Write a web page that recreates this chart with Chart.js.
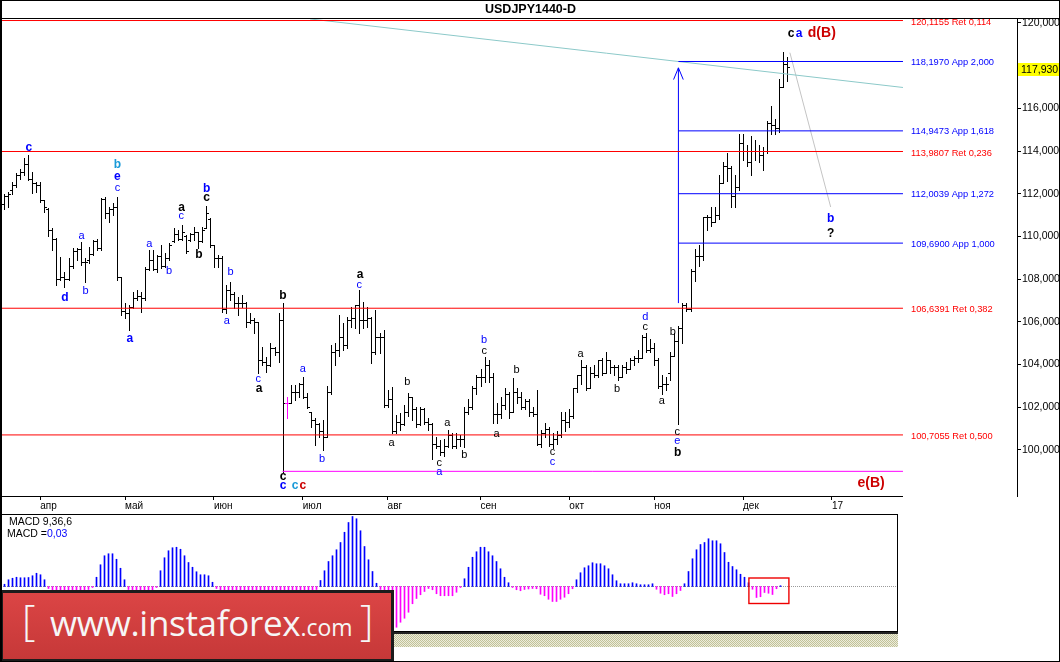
<!DOCTYPE html>
<html>
<head>
<meta charset="utf-8">
<script src="https://cdn.jsdelivr.net/npm/chart.js@4.4.1/dist/chart.umd.min.js"></script>
<style>
  html, body { margin: 0; padding: 0; background: #fff; }
  #wrap { position: relative; width: 1060px; height: 662px; overflow: hidden; background: #fff; }
  #main { position: absolute; left: 0; top: 0; }
  #macd { position: absolute; left: 0; top: 513px; }
  #band { position: absolute; left: 1px; top: 632px; width: 897px; height: 2px; background: #222; }
  #hatch { position: absolute; left: 1px; top: 634px; width: 897px; height: 13px;
    background: repeating-conic-gradient(#c2c298 0% 25%, #ececdc 0% 50%) 0 0 / 2px 2px; }
  #logo { position: absolute; left: 0; top: 590px; width: 394px; height: 72px; box-sizing: border-box;
    border: 3px solid #1c1c1c; background: linear-gradient(#db4545, #c63838); color: #f6f6f6;
    font-family: "Open Sans", sans-serif; z-index: 3; overflow: hidden; }
  #logo span { position: absolute; line-height: 1; white-space: nowrap; }
  #logo .br { font-size: 42px; font-weight: 300; top: 5px; }
  #logo .www { font-size: 35px; left: 47px; top: 12px; letter-spacing: -0.3px; }
  #logo .www small { font-size: 23px; letter-spacing: 0; }
  #frame { position: absolute; left: 0; top: 0; width: 1060px; height: 662px; box-sizing: border-box;
    border: 1px solid #000; border-left-width: 2px; pointer-events: none; z-index: 5; }
</style>
</head>
<body>
<div id="wrap">
  <canvas id="main" width="1060" height="513"></canvas>
  <canvas id="macd" width="898" height="119"></canvas>
  <div id="band"></div>
  <div id="hatch"></div>
  <div id="logo"><span class="br" style="left:19px">[</span><span class="www">www.instaforex<small>.com</small></span><span class="br" style="left:357px">]</span></div>
  <div id="frame"></div>
</div>
<script>
// Daily USDJPY bars, 21 Mar 2016 .. 16 Dec 2016 (index 0 = first bar)
const opens = [
  111.5, 111.9, 112.2, 112.4, 112.9, 113.0, 113.4, 112.7, 112.5, 112.4,
  111.7, 111.3, 110.3, 109.9, 108.0, 108.1, 108.0, 108.6, 109.3, 109.4,
  108.8, 108.9, 109.2, 109.8, 109.45, 111.75, 111.1, 111.3, 111.4, 108.1,
  106.5, 106.4, 106.7, 107.1, 107.2, 107.1, 108.5, 108.9, 108.5, 109.1,
  108.6, 109.0, 109.8, 110.1, 109.9, 110.0, 109.85, 110.1, 110.2, 109.8,
  110.4, 110.8, 109.6, 109.0, 109.0, 106.6, 107.5, 107.3, 106.9, 106.9,
  106.9, 106.0, 106.1, 106.0, 104.2, 104.1, 104.0, 104.8, 104.6, 106.1,
  102.2, 102.2, 102.7, 102.7, 103.1, 102.5, 101.8, 101.4, 101.2, 100.9,
  100.6, 102.7, 104.6, 104.7, 105.3, 104.9, 106.1, 106.2, 106.8, 106.1,
  106.1, 106.2, 104.6, 105.3, 105.3, 102.1, 102.4, 100.9, 101.3, 101.2,
  101.8, 102.5, 101.9, 101.2, 101.9, 101.3, 101.2, 100.3, 100.2, 99.9,
  100.2, 100.7, 100.2, 100.5, 100.5, 101.8, 102.0, 102.9, 103.4, 103.4,
  104.0, 103.4, 101.7, 101.7, 102.1, 102.6, 101.8, 102.7, 102.5, 102.0,
  102.3, 101.8, 101.7, 100.3, 100.8, 101.0, 100.3, 100.5, 100.7, 101.4,
  101.3, 101.6, 102.9, 103.5, 103.9, 102.9, 103.6, 103.5, 104.2, 103.6,
  104.2, 103.9, 103.9, 103.4, 103.9, 103.8, 104.2, 104.3, 104.3, 105.3,
  104.7, 104.8, 104.2, 103.0, 103.1, 103.6, 104.4, 105.1, 105.7, 106.8,
  106.6, 108.4, 109.1, 109.1, 110.9, 110.9, 110.7, 111.0, 112.5, 113.3,
  113.2, 111.9, 112.3, 114.4, 114.0, 113.5, 114.0, 114.0, 113.8, 114.0,
  115.3, 115.2, 115.1, 117.0, 118.1
];
const highs = [
  111.98, 112.10, 112.57, 112.96, 113.15, 113.66, 113.82, 113.04, 112.57, 112.57,
  111.71, 111.35, 110.38, 109.91, 109.06, 108.35, 108.98, 109.45, 109.45, 109.76,
  108.98, 109.52, 109.84, 109.88, 111.79, 111.87, 111.40, 111.55, 111.87, 108.12,
  106.87, 106.79, 107.42, 107.50, 107.42, 108.59, 109.37, 109.37, 109.13, 109.60,
  109.21, 109.68, 110.38, 110.31, 110.54, 110.07, 110.15, 110.46, 110.23, 110.46,
  111.43, 110.85, 109.60, 109.13, 109.09, 107.73, 107.89, 107.42, 107.18, 107.26,
  106.95, 106.40, 106.17, 106.01, 104.84, 104.37, 105.03, 104.84, 106.40, 106.87,
  102.50, 103.05, 103.05, 103.12, 103.40, 102.66, 101.80, 101.48, 101.25, 101.40,
  103.00, 104.90, 104.99, 106.32, 105.93, 106.25, 106.72, 106.80, 107.50, 106.95,
  106.72, 106.25, 106.56, 105.47, 105.62, 102.81, 102.97, 101.64, 101.72, 102.11,
  102.65, 102.50, 102.00, 102.00, 101.95, 101.48, 101.25, 100.63, 100.47, 100.50,
  100.94, 100.80, 100.80, 100.70, 102.03, 102.40, 103.00, 103.50, 103.80, 104.37,
  104.20, 103.60, 102.20, 102.50, 102.90, 102.70, 103.36, 102.90, 102.70, 102.40,
  102.40, 102.00, 102.80, 100.94, 101.25, 101.10, 100.80, 100.90, 101.80, 101.80,
  101.90, 102.90, 103.50, 104.20, 104.00, 103.90, 104.00, 104.20, 104.30, 104.60,
  104.20, 104.00, 104.00, 104.00, 104.10, 104.30, 104.40, 104.70, 105.40, 105.50,
  105.20, 105.00, 104.30, 103.50, 103.40, 104.60, 105.50, 105.80, 106.90, 106.90,
  108.50, 109.40, 109.60, 110.90, 111.00, 111.40, 111.40, 112.90, 113.50, 113.90,
  113.30, 112.90, 114.80, 114.80, 114.30, 114.70, 114.50, 114.30, 114.20, 115.40,
  116.10, 115.50, 117.40, 118.66, 118.40
];
const lows = [
  111.27, 111.40, 112.00, 112.33, 112.68, 112.88, 112.65, 112.02, 112.10, 111.63,
  111.16, 110.00, 109.37, 107.73, 107.95, 107.65, 107.96, 108.51, 108.90, 108.67,
  107.89, 108.74, 109.13, 109.37, 109.37, 110.85, 110.70, 111.01, 107.96, 106.33,
  106.17, 105.62, 106.64, 107.03, 106.48, 107.03, 108.43, 108.43, 108.35, 108.51,
  108.59, 108.90, 109.76, 109.84, 109.84, 109.21, 109.80, 109.84, 109.45, 109.76,
  110.38, 109.52, 108.59, 108.59, 106.48, 106.40, 107.03, 106.64, 106.32, 106.72,
  105.78, 105.95, 105.47, 103.59, 103.98, 103.67, 103.95, 104.45, 104.10, 98.99,
  101.48, 102.19, 102.34, 102.50, 102.42, 101.95, 101.10, 100.24, 100.63, 100.00,
  100.60, 102.60, 103.98, 104.40, 104.69, 104.80, 105.78, 105.70, 105.47, 105.70,
  105.78, 104.06, 104.50, 104.53, 102.00, 102.00, 100.78, 100.78, 100.94, 101.15,
  101.60, 101.40, 101.10, 101.15, 101.20, 100.94, 99.60, 100.08, 99.77, 99.70,
  100.15, 100.10, 100.10, 100.20, 100.16, 101.70, 101.90, 102.60, 103.00, 103.20,
  103.20, 101.25, 101.25, 101.50, 101.90, 101.50, 101.80, 102.20, 101.90, 101.90,
  101.60, 101.60, 100.24, 100.16, 100.63, 100.20, 100.10, 100.30, 100.60, 100.90,
  101.10, 101.50, 102.70, 103.10, 102.80, 102.90, 103.40, 103.40, 103.50, 103.60,
  103.60, 103.50, 103.30, 103.40, 103.60, 103.80, 104.00, 104.10, 104.30, 104.60,
  104.60, 104.00, 102.90, 102.60, 102.80, 103.30, 104.40, 101.20, 105.00, 106.50,
  106.50, 107.90, 108.60, 108.90, 110.30, 110.50, 110.70, 110.80, 112.50, 112.60,
  111.40, 111.40, 112.20, 113.60, 113.30, 112.90, 113.60, 113.50, 113.10, 113.90,
  114.80, 114.80, 114.90, 117.00, 117.30
];
const closes = [
  111.9, 112.0, 112.4, 112.9, 113.0, 113.4, 112.7, 112.5, 112.4, 111.7,
  111.4, 110.3, 109.9, 108.0, 108.1, 108.0, 108.6, 109.3, 109.4, 108.8,
  108.8, 109.2, 109.8, 109.45, 111.75, 111.1, 111.3, 111.4, 108.1, 106.5,
  106.4, 106.7, 107.1, 107.2, 107.1, 108.5, 108.9, 108.5, 109.1, 108.6,
  109.0, 109.6, 110.1, 109.9, 110.2, 109.3, 110.1, 110.2, 109.8, 110.3,
  111.1, 109.6, 109.0, 109.0, 106.6, 107.5, 107.3, 106.9, 106.9, 106.9,
  106.0, 106.1, 106.0, 104.2, 104.1, 104.0, 104.8, 104.6, 106.1, 102.2,
  102.2, 102.7, 102.7, 103.1, 102.5, 102.0, 101.4, 101.2, 100.9, 100.6,
  102.7, 104.6, 104.7, 105.3, 104.9, 106.1, 106.2, 106.8, 106.1, 106.1,
  106.2, 104.6, 105.3, 105.3, 102.1, 102.4, 100.9, 101.3, 101.2, 101.8,
  102.5, 101.9, 101.2, 101.9, 101.3, 101.2, 100.3, 100.2, 99.9, 100.2,
  100.7, 100.2, 100.5, 100.5, 101.8, 102.0, 102.9, 103.4, 103.4, 104.0,
  103.4, 101.7, 101.7, 102.1, 102.6, 101.8, 102.7, 102.5, 102.0, 102.3,
  101.8, 101.7, 100.3, 100.8, 101.0, 100.3, 100.5, 100.7, 101.4, 101.3,
  101.6, 102.9, 103.5, 103.9, 102.9, 103.6, 103.5, 104.2, 103.6, 104.2,
  103.9, 103.9, 103.4, 103.9, 103.8, 104.2, 104.3, 104.3, 105.3, 104.7,
  104.8, 104.2, 103.0, 103.1, 103.1, 104.4, 105.1, 105.7, 106.8, 106.6,
  108.4, 109.1, 109.1, 110.9, 110.9, 110.7, 111.0, 112.5, 113.3, 113.2,
  111.9, 112.3, 114.4, 114.0, 113.5, 114.0, 114.0, 113.8, 114.0, 115.3,
  115.2, 115.1, 117.0, 118.1, 117.93
];
const markedBars = [70];

// MACD 9,36,6 histogram, one value per bar
const macdHist = [
  0.09, 0.27, 0.33, 0.37, 0.35, 0.35, 0.36, 0.43, 0.53, 0.47, 0.27,
  -0.08, -0.2, -0.36, -0.56, -0.64, -0.6, -0.48, -0.36, -0.28, -0.2, -0.12, -0.04,
  0.37, 0.87, 1.23, 1.31, 1.31, 1.09, 0.73, 0.27,
  -0.12, -0.24, -0.32, -0.36, -0.32, -0.24, -0.16, -0.04,
  0.63, 1.15, 1.43, 1.55, 1.57, 1.49, 1.23, 0.96, 0.77, 0.59, 0.47, 0.47, 0.43, 0.17,
  -0.08, -0.16, -0.24, -0.36, -0.44, -0.48, -0.52, -0.56, -0.56, -0.6, -0.68, -0.76, -0.8,
  -0.8, -0.76, -0.88, -1.04, -1.12, -1.08, -1.0, -0.88, -0.76, -0.6, -0.44, -0.28, -0.12,
  0.24, 0.63, 1.0, 1.23, 1.47, 1.76, 2.17, 2.56, 2.8, 2.71, 2.23, 1.6, 1.07, 0.6, 0.13,
  -0.12, -0.4, -0.88, -1.36,
  -1.63, -1.43, -1.27, -1.03, -0.69, -0.48, -0.33, -0.2, -0.08, -0.13, -0.29, -0.37, -0.37, -0.37, -0.37, -0.23,
  -0.04,
  0.31, 0.77, 1.17, 1.39, 1.57, 1.57, 1.39, 1.23, 1.0, 0.71, 0.37, 0.15,
  -0.04, -0.13, -0.17, -0.12, -0.1,
  -0.08, -0.09, -0.31, -0.37, -0.51, -0.6, -0.6, -0.51, -0.43, -0.29, -0.09,
  0.27, 0.55, 0.75, 0.83, 0.95, 0.91, 0.91, 0.83, 0.71, 0.47, 0.23, 0.11, 0.11, 0.11, 0.15, 0.11, 0.07, 0.07, 0.07, 0.11,
  -0.11, -0.27, -0.33, -0.29, -0.4, -0.29, -0.16,
  0.11, 0.6, 1.11, 1.47, 1.68, 1.76, 1.91, 1.83, 1.83, 1.71, 1.36, 0.97, 0.8, 0.67, 0.49, 0.37, 0.15,
  -0.11, -0.44, -0.41, -0.24, -0.27, -0.32, -0.09,
  0.03
];
const macdBox = [186.1, 196.1, 0.34, -0.68];

// Axis ticks
const monthIdx = [9, 30, 52, 74, 95, 118, 140, 161, 183, 205];
const monthLabels = ['апр', 'май', 'июн', 'июл', 'авг', 'сен', 'окт', 'ноя', 'дек', '17'];
const priceTicks = [100, 102, 104, 106, 108, 110, 112, 114, 116, 120];
const lastPrice = 117.93;

// Fibonacci levels
const retLevels = [120.1155, 113.9807, 106.6391, 100.7055];
const retRatios = ['0,114', '0,236', '0,382', '0,500'];
const appLevels = [118.1970, 114.9473, 112.0039, 109.6900];
const appRatios = ['2,000', '1,618', '1,272', '1,000'];
const appStart = 167;

// Other drawn objects
const trendX = [75.8, 222.6], trendY = [120.19, 116.98];
const projX = [194.6, 204.7], projY = [118.61, 111.38];
const supportX = [69, 222.6], supportY = 99.0;
const arrowLow = 106.88, arrowTop = 117.9;
const arrowHeadX = [165.8, 167, 168.2], arrowHeadY = [117.35, 117.9, 117.35];

// Wave labels: text, bar index, price, style
const waveLabels = [
  ['c', 6.2, 114.17, 'B'], ['b', 28.1, 113.35, 'L'], ['e', 28.1, 112.80, 'B'], ['c', 28.1, 112.29, 'b'],
  ['a', 19.2, 110.02, 'b'], ['a', 36.0, 109.65, 'b'], ['a', 44.0, 111.35, 'K'], ['c', 43.9, 110.96, 'b'],
  ['b', 50.2, 112.22, 'B'], ['c', 50.2, 111.82, 'K'], ['b', 48.3, 109.13, 'K'], ['b', 40.9, 108.40, 'b'],
  ['d', 15.1, 107.15, 'B'], ['b', 20.2, 107.45, 'b'], ['a', 31.2, 105.23, 'B'], ['b', 56.1, 108.32, 'b'],
  ['a', 55.2, 106.03, 'b'], ['c', 63.0, 103.31, 'b'], ['a', 63.2, 102.87, 'K'], ['b', 69.1, 107.21, 'K'],
  ['c', 69.1, 98.74, 'K'], ['c', 69.1, 98.31, 'B'], ['c', 72.1, 98.31, 'L'], ['c', 74.0, 98.31, 'R'],
  ['a', 74.0, 103.78, 'b'], ['b', 78.8, 99.56, 'b'], ['a', 88.2, 108.23, 'K'], ['c', 88.0, 107.71, 'b'],
  ['a', 96.0, 100.31, 'k'], ['b', 99.9, 103.17, 'k'], ['a', 109.8, 101.28, 'k'], ['c', 107.8, 99.38, 'k'],
  ['a', 107.8, 98.98, 'b'], ['b', 114.0, 99.77, 'k'], ['b', 118.9, 105.15, 'b'], ['c', 118.9, 104.65, 'k'],
  ['a', 122.0, 100.74, 'k'], ['b', 126.9, 103.75, 'k'], ['c', 135.8, 99.89, 'k'], ['c', 135.8, 99.45, 'b'],
  ['a', 142.8, 104.50, 'k'], ['b', 151.8, 102.86, 'k'], ['d', 158.8, 106.22, 'b'], ['c', 158.8, 105.78, 'k'],
  ['b', 165.6, 105.54, 'k'], ['a', 162.9, 102.31, 'k'], ['c', 166.7, 100.86, 'k'], ['e', 166.7, 100.44, 'b'],
  ['b', 166.8, 99.89, 'K'], ['c', 194.9, 119.52, 'K'], ['a', 196.9, 119.52, 'B'], ['d(B)', 202.5, 119.52, 'RR'],
  ['b', 204.7, 110.85, 'B'], ['?', 204.7, 110.15, 'K'], ['e(B)', 214.7, 98.44, 'RR']
];

const labelStyles = {
  b: { color: '#0000ff', font: '11px "Liberation Sans"' },
  B: { color: '#0000ff', font: 'bold 12px "Liberation Sans"' },
  k: { color: '#000000', font: '11px "Liberation Sans"' },
  K: { color: '#000000', font: 'bold 12px "Liberation Sans"' },
  L: { color: '#1a9ad8', font: 'bold 12px "Liberation Sans"' },
  R: { color: '#cc0000', font: 'bold 12px "Liberation Sans"' },
  RR: { color: '#cc0000', font: 'bold 14px "Liberation Sans"' }
};

// Scale ranges
const X_MIN = -0.718, X_MAX = 250.83, LINE_END = 222.6;
const Y_MIN = 97.845, Y_MAX = 120.234;
const M_MIN = -0.875, M_MAX = 223.125, MACD_LO = -1.78, MACD_HI = 2.9;

Chart.defaults.font.family = '"Liberation Sans", sans-serif';
Chart.defaults.color = '#000';

function fmt(v, d) {
  return v.toFixed(d).replace('.', ',');
}

function seg(x0, y0, x1, y1, color, extra) {
  return Object.assign({
    type: 'line',
    data: [{ x: x0, y: y0 }, { x: x1, y: y1 }],
    borderColor: color,
    borderWidth: 1,
    pointRadius: 0,
    tension: 0
  }, extra || {});
}

// Line objects on the price chart
const lineSets = [];
retLevels.forEach(v => lineSets.push(seg(X_MIN, v, LINE_END, v, '#ff0000')));
appLevels.forEach(v => lineSets.push(seg(appStart, v, LINE_END, v, '#0000ff')));
lineSets.push(seg(appStart, arrowLow, appStart, arrowTop, '#0000ff'));
lineSets.push({
  type: 'line',
  data: arrowHeadX.map((x, i) => ({ x: x, y: arrowHeadY[i] })),
  borderColor: '#0000ff', borderWidth: 1, pointRadius: 0, tension: 0
});
lineSets.push(seg(supportX[0], supportY, supportX[1], supportY, '#ff00ff'));
lineSets.push(seg(trendX[0], trendY[0], trendX[1], trendY[1], '#8cc9c9'));
lineSets.push(seg(projX[0], projY[0], projX[1], projY[1], '#c4c4c4'));

// OHLC bars drawn from the arrays through the chart scales
const ohlcPlugin = {
  id: 'ohlcBars',
  beforeDatasetsDraw(chart) {
    const { ctx, chartArea } = chart;
    const xs = chart.scales.x, ys = chart.scales.y;
    ctx.save();
    ctx.beginPath();
    ctx.rect(chartArea.left, chartArea.top, chartArea.width, chartArea.height);
    ctx.clip();
    for (let i = 0; i < closes.length; i++) {
      const px = Math.round(xs.getPixelForValue(i));
      const yh = Math.round(ys.getPixelForValue(highs[i]));
      const yl = Math.round(ys.getPixelForValue(lows[i]));
      const yo = Math.round(ys.getPixelForValue(opens[i]));
      const yc = Math.round(ys.getPixelForValue(closes[i]));
      ctx.fillStyle = markedBars.includes(i) ? '#ff00ff' : '#000000';
      ctx.fillRect(px, yh, 1, Math.max(1, yl - yh + 1));
      ctx.fillRect(px - 2, yo, 2, 1);
      ctx.fillRect(px + 1, yc, 2, 1);
    }
    ctx.restore();
  }
};

// Frame lines, level captions, price marker and wave labels
const overlayPlugin = {
  id: 'overlay',
  afterDraw(chart) {
    const { ctx, chartArea, width } = chart;
    const xs = chart.scales.x, ys = chart.scales.y;
    const endPx = xs.getPixelForValue(LINE_END);
    ctx.save();
    ctx.fillStyle = '#000';
    ctx.fillRect(0, Math.round(chartArea.top), width, 1);
    ctx.fillRect(chartArea.left, Math.round(chartArea.bottom), endPx - chartArea.left, 1);

    ctx.font = '9.3px "Liberation Sans"';
    ctx.textAlign = 'left';
    ctx.textBaseline = 'middle';
    retLevels.forEach((v, i) => {
      ctx.fillStyle = '#ff0000';
      ctx.fillText(fmt(v, 4) + ' Ret ' + retRatios[i], endPx + 8, ys.getPixelForValue(v) + 1.5);
    });
    appLevels.forEach((v, i) => {
      ctx.fillStyle = '#0000ff';
      ctx.fillText(fmt(v, 4) + ' App ' + appRatios[i], endPx + 8, ys.getPixelForValue(v) + 1);
    });

    // current price box on the axis
    const py = ys.getPixelForValue(lastPrice);
    ctx.fillStyle = '#ffff00';
    ctx.fillRect(chartArea.right + 1, Math.round(py) - 4, width - chartArea.right - 1, 13);
    ctx.fillStyle = '#000';
    ctx.font = '10.5px "Liberation Sans"';
    ctx.fillText(fmt(lastPrice, 3), chartArea.right + 4, py + 3);

    ctx.textAlign = 'center';
    waveLabels.forEach(l => {
      const st = labelStyles[l[3]];
      ctx.font = st.font;
      ctx.fillStyle = st.color;
      ctx.fillText(l[0], xs.getPixelForValue(l[1]), ys.getPixelForValue(l[2]));
    });
    ctx.restore();
  }
};

new Chart(document.getElementById('main'), {
  type: 'line',
  data: { datasets: lineSets },
  options: {
    responsive: false,
    animation: false,
    events: [],
    layout: { padding: { left: 1, right: 0, top: 0, bottom: 0 } },
    plugins: {
      legend: { display: false },
      tooltip: { enabled: false },
      title: {
        display: true,
        text: 'USDJPY1440-D',
        color: '#000',
        font: { family: '"Liberation Sans"', size: 12.5, weight: 'bold' },
        padding: { top: 2, bottom: 1 }
      }
    },
    scales: {
      x: {
        type: 'linear',
        min: X_MIN,
        max: X_MAX,
        afterFit(s) { s.height = 17; },
        afterBuildTicks(s) { s.ticks = monthIdx.map(v => ({ value: v })); },
        grid: { drawOnChartArea: false, drawTicks: true, tickLength: 4, color: '#000' },
        border: { display: false },
        ticks: {
          autoSkip: false, maxRotation: 0, align: 'start', padding: 0,
          color: '#000', font: { size: 10 },
          callback: (v, i) => monthLabels[i]
        }
      },
      y: {
        position: 'right',
        min: Y_MIN,
        max: Y_MAX,
        afterFit(s) { s.width = 43; },
        afterBuildTicks(s) { s.ticks = priceTicks.map(v => ({ value: v })); },
        grid: { drawOnChartArea: false, drawTicks: true, tickLength: 4, color: '#000' },
        border: { display: true, color: '#000' },
        ticks: { padding: 1, color: '#000', font: { size: 10.5 }, callback: v => fmt(v, 3) }
      }
    }
  },
  plugins: [ohlcPlugin, overlayPlugin]
});

// MACD panel: box, captions and highlight rectangle
const macdPlugin = {
  id: 'macdPanel',
  afterDraw(chart) {
    const { ctx, chartArea } = chart;
    const xs = chart.scales.x, ys = chart.scales.y;
    ctx.save();
    ctx.strokeStyle = '#000';
    ctx.lineWidth = 1;
    ctx.strokeRect(chartArea.left + 0.5, chartArea.top + 0.5,
      chartArea.right - chartArea.left, chartArea.bottom - chartArea.top);

    const bx0 = xs.getPixelForValue(macdBox[0]), bx1 = xs.getPixelForValue(macdBox[1]);
    const by0 = ys.getPixelForValue(macdBox[2]), by1 = ys.getPixelForValue(macdBox[3]);
    ctx.strokeStyle = '#ee0000';
    ctx.lineWidth = 1.4;
    ctx.strokeRect(bx0, by0, bx1 - bx0, by1 - by0);

    ctx.font = '10.5px "Liberation Sans"';
    ctx.textAlign = 'left';
    ctx.textBaseline = 'middle';
    ctx.fillStyle = '#000';
    ctx.fillText('MACD 9,36,6', 9, 9.5);
    ctx.fillText('MACD =', 7, 21.5);
    const w = ctx.measureText('MACD =').width;
    ctx.fillStyle = '#0000ff';
    ctx.fillText(fmt(macdHist[macdHist.length - 1], 2), 7 + w, 21.5);
    ctx.restore();
  }
};

new Chart(document.getElementById('macd'), {
  type: 'bar',
  data: {
    datasets: [
      {
        type: 'bar',
        data: macdHist.map((v, i) => ({ x: i, y: v })),
        backgroundColor: macdHist.map(v => v >= 0 ? '#0000ff' : '#ff00ff'),
        barThickness: 1,
        borderWidth: 0,
        order: 1
      },
      {
        type: 'line',
        data: [{ x: M_MIN, y: 0 }, { x: M_MAX, y: 0 }],
        borderColor: '#9a9a9a',
        borderWidth: 1,
        borderDash: [1, 1],
        pointRadius: 0,
        order: 2
      }
    ]
  },
  options: {
    responsive: false,
    animation: false,
    events: [],
    layout: { padding: { left: 1, right: 1, top: 1, bottom: 1 } },
    plugins: { legend: { display: false }, tooltip: { enabled: false } },
    scales: {
      x: { type: 'linear', display: false, offset: false, min: M_MIN, max: M_MAX },
      y: { display: false, min: MACD_LO, max: MACD_HI }
    }
  },
  plugins: [macdPlugin]
});
</script>
</body>
</html>
